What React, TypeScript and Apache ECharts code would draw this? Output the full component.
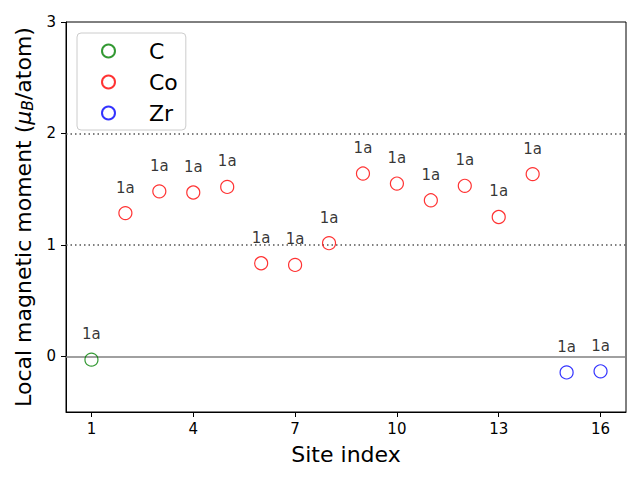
import React, { useEffect, useRef } from "react";
import * as echarts from "echarts";

const siteC = [1];
const momentC = [-0.03];
const siteCo = [2, 3, 4, 5, 6, 7, 8, 9, 10, 11, 12, 13, 14];
const momentCo = [1.285, 1.48, 1.47, 1.52, 0.835, 0.82, 1.015, 1.64, 1.55, 1.4, 1.53, 1.25, 1.635];
const siteZr = [15, 16];
const momentZr = [-0.145, -0.135];
const wyckoff = "1a";
const xTicks = [1, 4, 7, 10, 13, 16];
const yTicks = [0, 1, 2, 3];
const refLinesDotted = [1, 2];
const refLineSolid = [0];

const FONT = "DejaVu Sans";

function makeSeries(name: string, xs: number[], ys: number[], color: string, extra: any = {}) {
  return {
    name,
    type: "scatter",
    symbol: "circle",
    symbolSize: 13,
    data: xs.map((x, i) => [x, ys[i]]),
    itemStyle: { color: "rgba(255,255,255,0)", borderColor: color, borderWidth: 1.2 },
    label: {
      show: true,
      position: "top",
      distance: 11,
      formatter: () => wyckoff,
      color: "#000",
      fontFamily: FONT,
      fontSize: 15,
    },
    z: 5,
    ...extra,
  };
}

export default function App() {
  const ref = useRef<HTMLDivElement>(null);
  useEffect(() => {
    if (!ref.current) return;
    const chart = echarts.init(ref.current, null, { renderer: "svg" });
    chart.setOption({
      animation: false,
      backgroundColor: "#fff",
      textStyle: { fontFamily: FONT },
      grid: {
        left: 66,
        right: 14,
        top: 22,
        bottom: 68,
        show: true,
        borderColor: "#000",
        borderWidth: 1,
        backgroundColor: "transparent",
      },
      legend: {
        orient: "vertical",
        left: 77,
        top: 33,
        padding: [6, 8, 5, 24],
        itemWidth: 13,
        itemHeight: 13,
        itemGap: 7,
        borderColor: "#cccccc",
        borderWidth: 1,
        borderRadius: 4,
        backgroundColor: "#fff",
        textStyle: {
          fontFamily: FONT,
          fontSize: 22,
          color: "#000",
          lineHeight: 24,
          padding: [0, 0, 0, 29],
        },
        data: ["C", "Co", "Zr"],
      },
      xAxis: {
        type: "value",
        min: 0.25,
        max: 16.75,
        name: "Site index",
        nameLocation: "middle",
        nameGap: 31,
        nameTextStyle: { fontFamily: FONT, fontSize: 22, color: "#000" },
        splitLine: { show: false },
        axisLine: { show: true, onZero: false, lineStyle: { color: "#000" } },
        axisTick: { show: true, customValues: xTicks, length: 5, lineStyle: { color: "#000" } },
        axisLabel: { customValues: xTicks, fontFamily: FONT, fontSize: 15, color: "#000", margin: 9 },
      },
      yAxis: {
        type: "value",
        min: -0.5,
        max: 3,
        name: "{n|Local magnetic moment (}{i|μ}{s|B}{n|/atom)}",
        nameLocation: "middle",
        nameGap: 30,
        nameTextStyle: {
          fontFamily: FONT,
          fontSize: 22,
          color: "#000",
          rich: {
            n: { fontFamily: FONT, fontSize: 22, color: "#000" },
            i: { fontFamily: FONT, fontSize: 22, fontStyle: "italic", color: "#000" },
            s: { fontFamily: FONT, fontSize: 15.5, fontStyle: "italic", color: "#000", verticalAlign: "bottom", padding: [8, 0, 0, 0] },
          },
        },
        splitLine: { show: false },
        axisLine: { show: true, onZero: false, lineStyle: { color: "#000" } },
        axisTick: { show: true, customValues: yTicks, length: 5, lineStyle: { color: "#000" } },
        axisLabel: { customValues: yTicks, fontFamily: FONT, fontSize: 15, color: "#000", margin: 10 },
      },
      series: [
        makeSeries("C", siteC, momentC, "#008000", {
          markLine: {
            silent: true,
            symbol: "none",
            label: { show: false },
            data: [
              ...refLinesDotted.map((v) => ({ yAxis: v, lineStyle: { type: [1.5, 3], color: "#555", width: 1.5 } })),
              ...refLineSolid.map((v) => ({ yAxis: v, lineStyle: { type: "solid", color: "#808080", width: 1.5 } })),
            ],
          },
        }),
        makeSeries("Co", siteCo, momentCo, "#ff0000"),
        makeSeries("Zr", siteZr, momentZr, "#0000ff"),
      ],
    });
    return () => chart.dispose();
  }, []);
  return <div ref={ref} style={{ width: 640, height: 480, position: "absolute", left: 0, top: 0 }} />;
}
